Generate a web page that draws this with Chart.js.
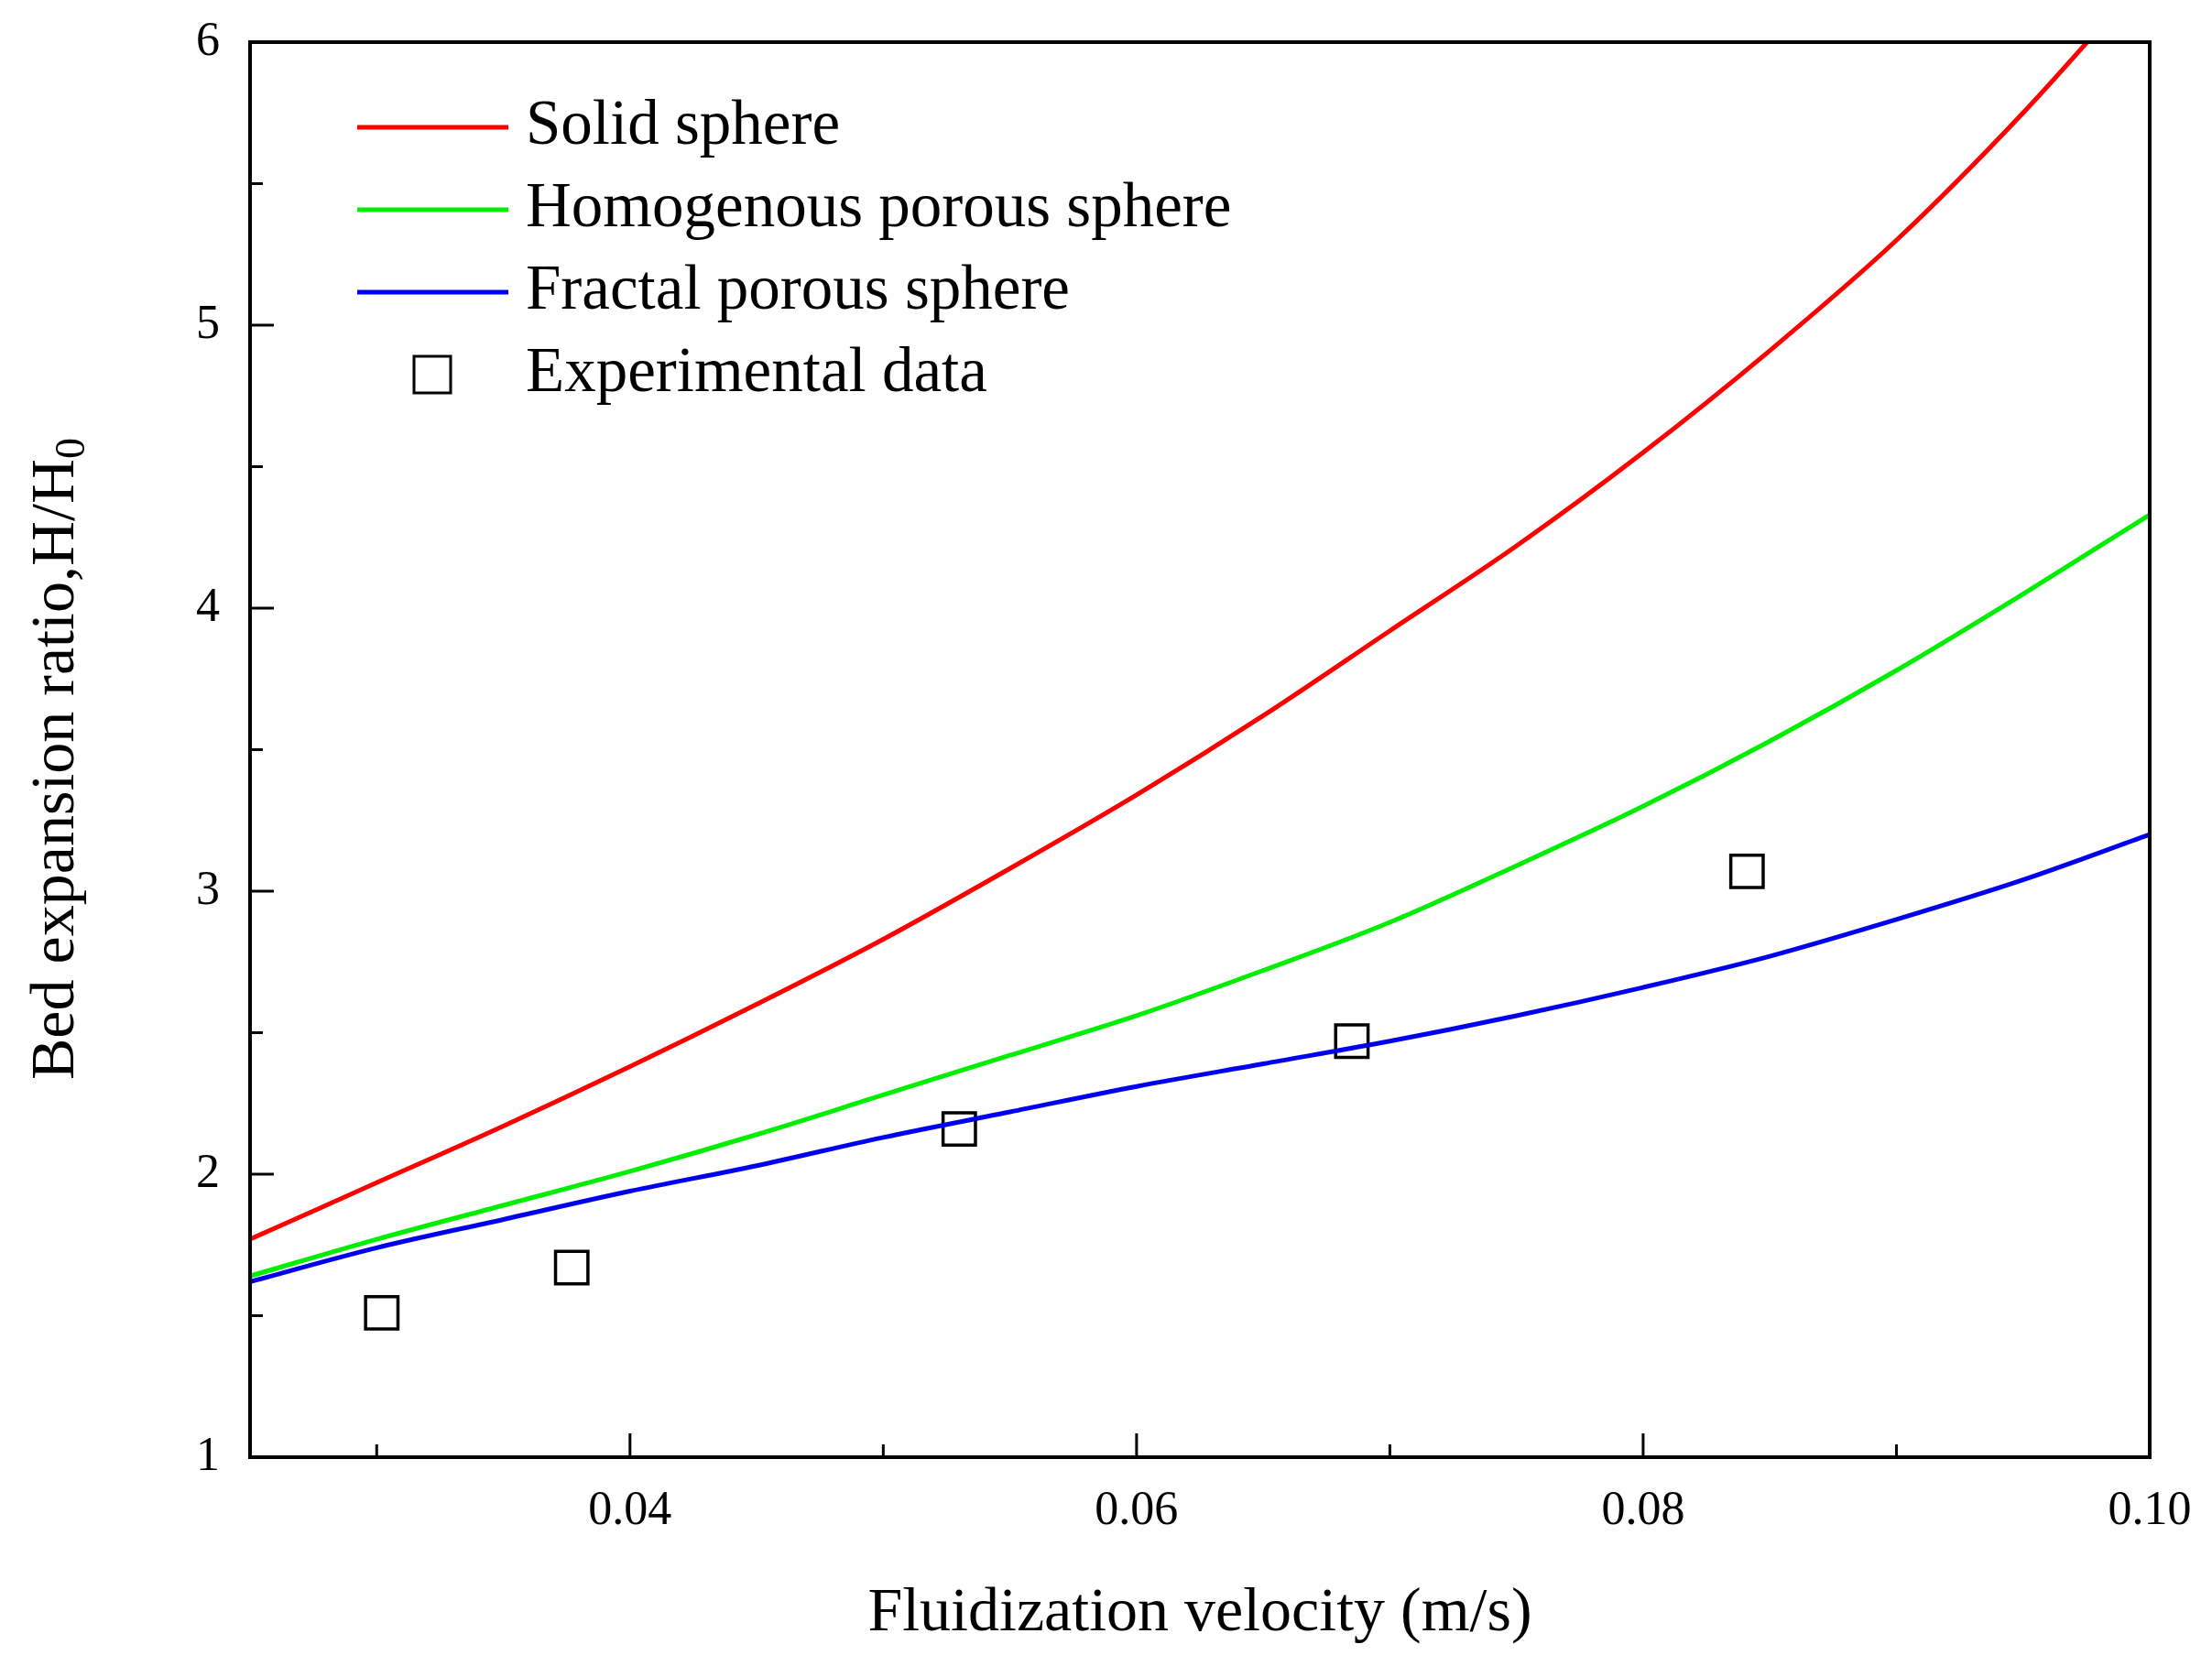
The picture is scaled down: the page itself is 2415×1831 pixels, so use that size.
<!DOCTYPE html>
<html><head><meta charset="utf-8">
<script src="https://cdn.jsdelivr.net/npm/chart.js@4"></script>
<style>html,body{margin:0;padding:0;background:#fff}#w{width:2415px;height:1831px}</style>
</head><body><div id="w"><canvas id="c" width="2415" height="1831"></canvas></div>
<script>
const xs = [0.025,0.03,0.035,0.04,0.045,0.05,0.055,0.06,0.065,0.07,0.075,0.08,0.085,0.09,0.095,0.1];
const solid = [1.77,1.97,2.17,2.38,2.60,2.83,3.08,3.34,3.62,3.92,4.22,4.55,4.91,5.30,5.75,6.25];
const homog = [1.64,1.77,1.89,2.01,2.14,2.28,2.42,2.56,2.72,2.89,3.09,3.30,3.53,3.78,4.05,4.33];
const fractal = [1.62,1.74,1.84,1.94,2.03,2.13,2.22,2.31,2.39,2.47,2.56,2.66,2.77,2.90,3.04,3.20];
const expX = [0.0302,0.0377,0.053,0.0685,0.0841];
const expY = [1.51,1.67,2.16,2.47,3.07];
const xTickVals = [0.03,0.04,0.05,0.06,0.07,0.08,0.09,0.10];
const xTickLabels = {"0.04":"0.04","0.06":"0.06","0.08":"0.08","0.1":"0.10"};
const yTickVals = [1,1.5,2,2.5,3,3.5,4,4.5,5,5.5,6];
const names = ["Solid sphere","Homogenous porous sphere","Fractal porous sphere","Experimental data"];
const colors = ["#ff0000","#00ee00","#0000ee","#000000"];
const F = "'Liberation Serif','DejaVu Serif',serif";
const pts = a => xs.map((x,i)=>({x, y:a[i]}));
const deco = {
  id:'deco',
  afterDraw(ch){
    const c=ch.ctx, a=ch.chartArea, sx=ch.scales.x, sy=ch.scales.y;
    c.save();
    c.strokeStyle='#000'; c.lineWidth=4;
    c.strokeRect(a.left,a.top,a.right-a.left,a.bottom-a.top);
    c.lineWidth=3;
    xTickVals.forEach((v,i)=>{const p=sx.getPixelForValue(v);const L=(i%2)?26:14;
      c.beginPath();c.moveTo(p,a.bottom);c.lineTo(p,a.bottom-L);c.stroke();});
    yTickVals.forEach((v,i)=>{const p=sy.getPixelForValue(v);const L=(i%2)?14:26;
      c.beginPath();c.moveTo(a.left,p);c.lineTo(a.left+L,p);c.stroke();});
    c.fillStyle='#000';c.textBaseline='middle';
    c.font='52px '+F;c.textAlign='center';
    Object.keys(xTickLabels).forEach(k=>c.fillText(xTickLabels[k],sx.getPixelForValue(+k),1650));
    c.textAlign='right';
    [1,2,3,4,5,6].forEach(v=>c.fillText(String(v),240,sy.getPixelForValue(v)));
    c.font='68px '+F;c.textAlign='center';
    c.fillText('Fluidization velocity (m/s)',(a.left+a.right)/2,1762);
    c.save();c.translate(62,(a.top+a.bottom)/2+10);c.rotate(-Math.PI/2);
    const t1='Bed expansion ratio,H/H', w1=c.measureText(t1).width;
    c.font='46px '+F;const w2=c.measureText('0').width;
    c.textAlign='left';c.font='68px '+F;c.fillText(t1,-(w1+w2)/2,0);
    c.font='46px '+F;c.fillText('0',-(w1+w2)/2+w1,18);
    c.restore();
    c.font='69px '+F;c.textAlign='left';
    names.forEach((n,i)=>{const y=139+i*90;
      if(i<3){c.strokeStyle=colors[i];c.lineWidth=5;c.beginPath();c.moveTo(390,y);c.lineTo(555,y);c.stroke();}
      else{c.strokeStyle='#000';c.lineWidth=3;c.strokeRect(452,y-20,40,40);}
      c.fillStyle='#000';c.fillText(n,574,y);});
    c.restore();
  }
};
const lineDs = (i,arr)=>({label:names[i],data:pts(arr),showLine:true,borderColor:colors[i],borderWidth:5,pointRadius:0,cubicInterpolationMode:'monotone',fill:false});
new Chart(document.getElementById('c'),{
  type:'scatter',
  data:{datasets:[
    lineDs(0,solid),lineDs(1,homog),lineDs(2,fractal),
    {label:names[3],data:expX.map((x,i)=>({x,y:expY[i]})),showLine:false,pointStyle:'rect',pointRadius:25,borderColor:'#000',borderWidth:3.5,backgroundColor:'rgba(255,255,255,0)'}
  ]},
  options:{responsive:false,animation:false,devicePixelRatio:1,
    layout:{padding:{left:0,top:46,right:68,bottom:0}},
    plugins:{legend:{display:false},tooltip:{enabled:false}},
    scales:{
      x:{type:'linear',min:0.025,max:0.1,grid:{display:false},border:{display:false},ticks:{display:false},
        afterFit(s){s.height=240;}},
      y:{type:'linear',min:1,max:6,grid:{display:false},border:{display:false},ticks:{display:false},
        afterFit(s){s.width=273;}}
    }},
  plugins:[deco]
});
</script></body></html>
